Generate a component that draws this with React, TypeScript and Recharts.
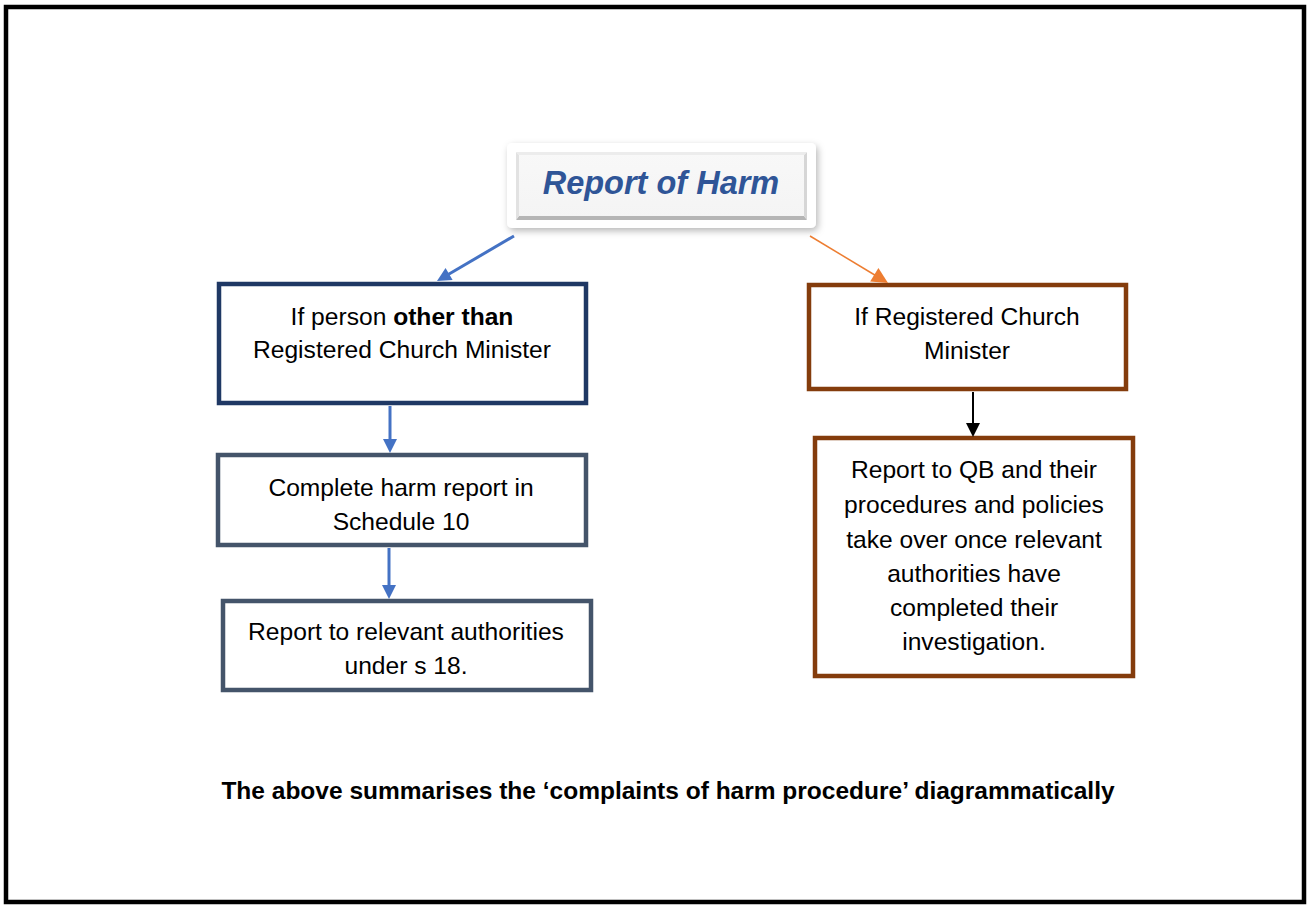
import React from 'react'
import { ComposedChart, XAxis, YAxis, ReferenceArea, ReferenceLine, Scatter } from 'recharts'

const W = 1307
const H = 905

const ARIAL = '"Liberation Sans", Arial, Helvetica, sans-serif'

// Flowchart boxes, in page units (x to the right, y downwards)
const boxIds = ['other', 'schedule', 'authorities', 'minister', 'qb']
const boxLeft = [219, 218, 223, 809, 815]
const boxRight = [586, 586, 591, 1126, 1133]
const boxTop = [284, 455, 601, 285, 438]
const boxBottom = [403, 545, 690, 389, 676]

// Header button
const titleLeft = 507
const titleRight = 816
const titleTop = 143
const titleBottom = 228

// Connectors
const arrowKind = ['blue', 'orange', 'blue', 'blue', 'black']
const arrowFromX = [514, 810, 390, 389, 973]
const arrowFromY = [236, 236, 406, 548, 392]
const arrowToX = [437, 888, 390, 389, 973]
const arrowToY = [281, 283, 453, 599, 437]

// Text lines (** marks bold runs)
const textNode = [
  'title',
  'other', 'other',
  'schedule', 'schedule',
  'authorities', 'authorities',
  'minister', 'minister',
  'qb', 'qb', 'qb', 'qb', 'qb', 'qb',
  'caption',
]
const textLine = [
  'Report of Harm',
  'If person **other than**',
  'Registered Church Minister',
  'Complete harm report in',
  'Schedule 10',
  'Report to relevant authorities',
  'under s 18.',
  'If Registered Church',
  'Minister',
  'Report to QB and their',
  'procedures and policies',
  'take over once relevant',
  'authorities have',
  'completed their',
  'investigation.',
  'The above summarises the \u2018complaints of harm procedure\u2019 diagrammatically',
]
const textX = [661, 402, 402, 401, 401, 406, 406, 967, 967, 974, 974, 974, 974, 974, 974, 668]
const textY = [183, 316, 349, 487, 521, 631, 665, 316, 350, 469, 504, 539, 573, 607, 641, 790]

const BOX_COLOUR: Record<string, string> = {
  other: '#1F3864',
  schedule: '#44546A',
  authorities: '#44546A',
  minister: '#843C0C',
  qb: '#843C0C',
}

const ARROW_STYLE: Record<string, { stroke: string; width: number; head: number; half: number }> = {
  blue: { stroke: '#4472C4', width: 3, head: 14, half: 7 },
  orange: { stroke: '#ED7D31', width: 1.5, head: 16, half: 8 },
  black: { stroke: '#000000', width: 2, head: 14, half: 7 },
}

const texts = textLine.map((t, i) => ({ x: textX[i], y: textY[i], text: t, node: textNode[i] }))

const Arrow = (kind: string) => (p: any) => {
  const s = ARROW_STYLE[kind]
  const dx = p.x2 - p.x1
  const dy = p.y2 - p.y1
  const len = Math.hypot(dx, dy) || 1
  const ux = dx / len
  const uy = dy / len
  const bx = p.x2 - ux * s.head
  const by = p.y2 - uy * s.head
  const pts = `${p.x2},${p.y2} ${bx - uy * s.half},${by + ux * s.half} ${bx + uy * s.half},${by - ux * s.half}`
  return (
    <g>
      <line x1={p.x1} y1={p.y1} x2={bx + ux} y2={by + uy} stroke={s.stroke} strokeWidth={s.width} />
      <polygon points={pts} fill={s.stroke} />
    </g>
  )
}

const TitleButton = (p: any) => {
  const { x, y, width, height } = p
  return (
    <g>
      <defs>
        <filter id="btnShadow" x="-10%" y="-20%" width="120%" height="150%">
          <feDropShadow dx="2" dy="3" stdDeviation="3.5" floodColor="#000" floodOpacity="0.28" />
        </filter>
        <linearGradient id="btnFace" x1="0" y1="0" x2="0" y2="1">
          <stop offset="0" stopColor="#f8f8f8" />
          <stop offset="1" stopColor="#f4f4f4" />
        </linearGradient>
      </defs>
      <rect x={x} y={y} width={width} height={height} rx={5} fill="#ffffff" filter="url(#btnShadow)" />
      <rect x={x + 9} y={y + 9} width={width - 18} height={height - 17} fill="url(#btnFace)" />
      {/* bevel edges */}
      <polygon
        points={`${x + 9},${y + height - 8} ${x + width - 9},${y + height - 8} ${x + width - 12},${y + height - 12} ${x + 12},${y + height - 12}`}
        fill="#b5b5b5"
      />
      <polygon
        points={`${x + width - 9},${y + 9} ${x + width - 9},${y + height - 8} ${x + width - 12},${y + height - 12} ${x + width - 12},${y + 12}`}
        fill="#d6d6d6"
      />
      <polygon
        points={`${x + 9},${y + 9} ${x + 9},${y + height - 8} ${x + 12},${y + height - 12} ${x + 12},${y + 12}`}
        fill="#e2e2e2"
      />
      <polygon
        points={`${x + 9},${y + 9} ${x + width - 9},${y + 9} ${x + width - 12},${y + 12} ${x + 12},${y + 12}`}
        fill="#ececec"
      />
    </g>
  )
}

const TextShape = (p: any) => {
  const d = p.payload
  if (!d) return null
  const cx = p.cx
  const cy = p.cy
  if (d.node === 'title') {
    return (
      <text x={cx} y={cy} textAnchor="middle" dominantBaseline="central" fontFamily={ARIAL}
        fontSize={32.5} fontWeight="bold" fontStyle="italic" fill="#2F5597">
        {d.text}
      </text>
    )
  }
  if (d.node === 'caption') {
    return (
      <text x={cx} y={cy} textAnchor="middle" dominantBaseline="central" fontFamily={ARIAL}
        fontSize={24.5} fontWeight="bold" fill="#000">
        {d.text}
      </text>
    )
  }
  const parts = String(d.text).split('**')
  return (
    <text x={cx} y={cy} textAnchor="middle" dominantBaseline="central" fontFamily={ARIAL}
      fontSize={24.6} fill="#000">
      {parts.map((seg, i) => (
        <tspan key={i} fontWeight={i % 2 ? 'bold' : 'normal'}>{seg}</tspan>
      ))}
    </text>
  )
}

export default function App() {
  return (
    <div style={{ position: 'absolute', left: 0, top: 0, background: '#fff' }}>
      <ComposedChart width={W} height={H} margin={{ top: 0, right: 0, bottom: 0, left: 0 }}>
        <XAxis type="number" dataKey="x" domain={[0, W]} hide allowDataOverflow />
        <YAxis type="number" dataKey="y" domain={[0, H]} reversed hide allowDataOverflow />

        {/* page frame */}
        <ReferenceArea x1={6} x2={1304} y1={7} y2={902} fill="none" fillOpacity={0}
          stroke="#000" strokeWidth={4.5} ifOverflow="visible" />

        <ReferenceArea x1={titleLeft} x2={titleRight} y1={titleTop} y2={titleBottom}
          ifOverflow="visible" shape={TitleButton} />

        {boxIds.map((id, i) => (
          <ReferenceArea key={id} x1={boxLeft[i]} x2={boxRight[i]} y1={boxTop[i]} y2={boxBottom[i]}
            fill="#ffffff" fillOpacity={1} stroke={BOX_COLOUR[id]} strokeWidth={4.5} ifOverflow="visible" />
        ))}

        {arrowKind.map((k, i) => (
          <ReferenceLine key={`arrow-${i}`} ifOverflow="visible"
            segment={[{ x: arrowFromX[i], y: arrowFromY[i] }, { x: arrowToX[i], y: arrowToY[i] }]}
            shape={Arrow(k)} />
        ))}

        <Scatter data={texts} dataKey="y" isAnimationActive={false} shape={TextShape} />
      </ComposedChart>
    </div>
  )
}
